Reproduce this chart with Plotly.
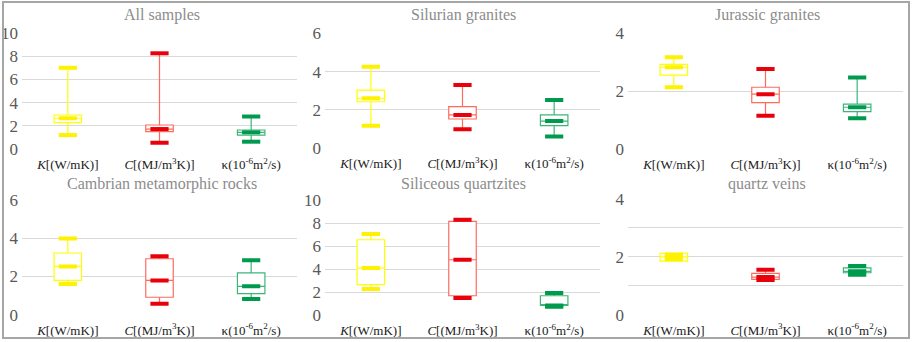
import plotly.graph_objects as go

W, H = 913, 342

panel_titles = ["All samples", "Silurian granites", "Jurassic granites",
                "Cambrian metamorphic rocks", "Siliceous quartzites", "quartz veins"]
categories = ["<i>K</i>[(W/mK)]", "<i>C</i>[(MJ/m<sup>3</sup>K)]", "κ(10<sup>-6</sup>m<sup>2</sup>/s)"]
y_max = [10, 6, 4, 6, 10, 4]
y_ticks = [[0, 2, 4, 6, 8, 10], [0, 2, 4, 6], [0, 2, 4], [0, 2, 4, 6], [0, 2, 4, 6, 8, 10], [0, 2, 4]]

# Thermal conductivity K
K_min = [1.20, 1.18, 2.14, 1.60, 2.29, 1.92]
K_q1 = [2.27, 2.43, 2.56, 1.79, 2.66, 1.85]
K_med = [2.65, 2.61, 2.83, 2.52, 4.11, 2.00]
K_q3 = [2.93, 3.04, 2.93, 3.22, 6.57, 2.12]
K_max = [7.00, 4.26, 3.17, 3.97, 7.07, 2.08]

# Heat capacity C
C_min = [0.54, 0.99, 1.16, 0.57, 1.50, 1.20]
C_q1 = [1.49, 1.53, 1.61, 0.91, 1.70, 1.22]
C_med = [1.72, 1.74, 1.90, 1.79, 4.83, 1.30]
C_q3 = [2.07, 2.17, 2.14, 2.92, 8.17, 1.43]
C_max = [8.25, 3.30, 2.77, 3.05, 8.31, 1.55]

# Thermal diffusivity kappa
k_min = [0.63, 0.61, 1.07, 0.82, 0.75, 1.38]
k_q1 = [1.20, 1.18, 1.30, 1.10, 0.85, 1.45]
k_med = [1.44, 1.42, 1.45, 1.48, 0.85, 1.50]
k_q3 = [1.64, 1.74, 1.56, 2.18, 1.70, 1.62]
k_max = [2.80, 2.52, 2.48, 2.84, 1.94, 1.68]

series = [
    (K_min, K_q1, K_med, K_q3, K_max, "#FFFF00", "#FFF200"),
    (C_min, C_q1, C_med, C_q3, C_max, "#FF6A5E", "#E8000B"),
    (k_min, k_q1, k_med, k_q3, k_max, "#3DB57A", "#009A4E"),
]

# pixel layout of each panel's plotting area: (x0, x1, ytop, ybottom), and title centres
panels_px = [(22, 297, 33, 149), (325, 600, 33.3, 148.3), (628, 903, 33.3, 149.3),
             (22, 297, 199.7, 314.7), (325, 600, 200.3, 315.3), (628, 903, 199, 314.7)]
title_px = [(162, 15), (463, 15), (767, 15), (162, 184), (463, 184), (767, 184)]

fig = go.Figure()
FONT = "Liberation Serif"

for p in range(6):
    ax = "" if p == 0 else str(p + 1)
    xa, ya = "x" + ax, "y" + ax
    for (mn, q1, md, q3, mx, boxc, capc), cat in zip(series, categories):
        fig.add_trace(go.Box(
            x=[cat], q1=[q1[p]], median=[md[p]], q3=[q3[p]],
            lowerfence=[mn[p]], upperfence=[mx[p]],
            width=0.3, whiskerwidth=0, fillcolor="white",
            line=dict(color=boxc, width=1.2), boxpoints=False,
            showlegend=False, hoverinfo="skip", xaxis=xa, yaxis=ya))
        fig.add_trace(go.Scatter(
            x=[cat, cat, cat], y=[mn[p], md[p], mx[p]], mode="markers",
            marker=dict(symbol="line-ew", size=13, color=capc,
                        line=dict(color=capc, width=4)),
            showlegend=False, hoverinfo="skip", xaxis=xa, yaxis=ya))
    x0, x1, yt, yb = panels_px[p]
    yaxis = dict(domain=[1 - yb / H, 1 - yt / H], anchor=xa, automargin=False,
                 range=[0, y_max[p]], tickvals=y_ticks[p],
                 showgrid=True, gridcolor="#D9D9D9", gridwidth=1,
                 zeroline=False, showline=False, ticks="", ticklabelstandoff=3,
                 tickfont=dict(family=FONT, size=17, color="#595959"))
    if p == 5:
        yaxis["minor"] = dict(dtick=1, showgrid=True, gridcolor="#D9D9D9")
    fig.update_layout(**{
        "xaxis" + ax: dict(domain=[x0 / W, x1 / W], anchor=ya, type="category",
                           automargin=False,
                           categoryorder="array", categoryarray=categories,
                           range=[-0.5, 2.5], showgrid=False, zeroline=False,
                           showline=False, ticks="", ticklabelstandoff=6,
                           tickfont=dict(family=FONT, size=13, color="#1a1a1a")),
        "yaxis" + ax: yaxis,
    })
    tx, ty = title_px[p]
    fig.add_annotation(text=panel_titles[p], x=tx / W, y=1 - ty / H, xref="paper", yref="paper",
                       showarrow=False, xanchor="center", yanchor="middle",
                       font=dict(family=FONT, size=16, color="#8C8C8C"))

fig.add_shape(type="rect", xref="paper", yref="paper",
              x0=3 / W, x1=909 / W, y0=1 - 338 / H, y1=1 - 2 / H,
              line=dict(color="#A6A6A6", width=2))

fig.update_layout(width=W, height=H, margin=dict(l=0, r=0, t=0, b=0),
                  paper_bgcolor="white", plot_bgcolor="white", showlegend=False,
                  font=dict(family=FONT))

fig.write_html("out.html", config={"displayModeBar": False},
               post_script="document.body.style.margin='0';document.body.style.overflow='hidden';")
